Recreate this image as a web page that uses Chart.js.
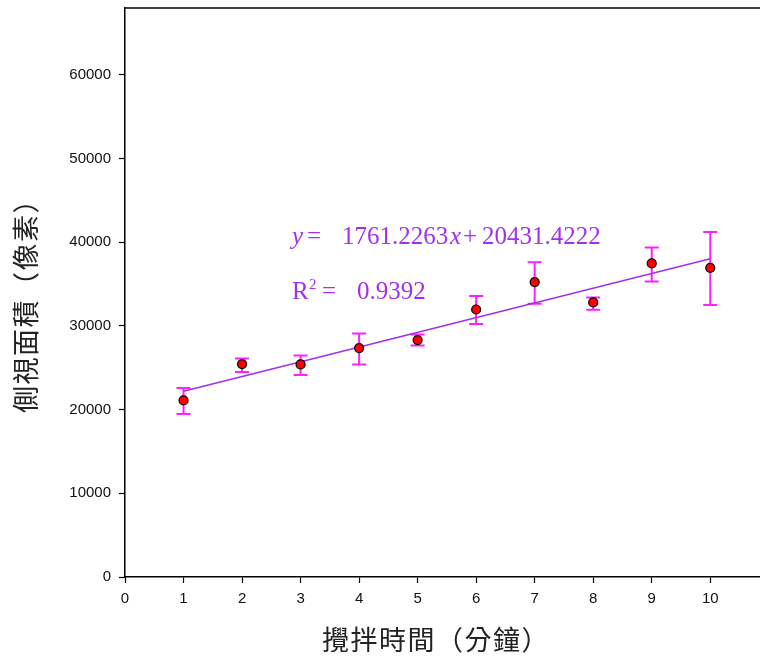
<!DOCTYPE html>
<html><head><meta charset="utf-8">
<script src="https://cdn.jsdelivr.net/npm/chart.js@4"></script>
<style>html,body{margin:0;padding:0;background:#fff;overflow:hidden}</style>
</head><body>
<canvas id="c" width="760" height="657"></canvas>
<script>
// ---- data ----
const stirMinutes = [1, 2, 3, 4, 5, 6, 7, 8, 9, 10];
const sideArea    = [21100, 25450, 25400, 27360, 28320, 31970, 35250, 32810, 37470, 36950];
const errLow      = [19470, 24490, 24130, 25400, 27670, 30230, 32650, 31940, 35320, 32500];
const errHigh     = [22580, 26120, 26480, 29100, 28990, 33570, 37630, 33410, 39380, 41220];
const fitSlope = 1761.2263;
const fitIntercept = 20431.4222;
const fitR2 = '0.9392';
const xTickValues = [0, 1, 2, 3, 4, 5, 6, 7, 8, 9, 10];
const yTickValues = [0, 10000, 20000, 30000, 40000, 50000, 60000];
const xTitle = '攪拌時間（分鐘）';
const yTitle = '側視面積（像素）';

const points = stirMinutes.map((x, i) => ({ x: x, y: sideArea[i] }));
const xFirst = stirMinutes[0], xLast = stirMinutes[stirMinutes.length - 1];
const fitLine = [
  { x: xFirst, y: fitSlope * xFirst + fitIntercept },
  { x: xLast,  y: fitSlope * xLast + fitIntercept }
];

const PURPLE = '#a030f0';
const MAGENTA = '#ff20ff';

const errorBarPlugin = {
  id: 'errorBars',
  beforeDatasetsDraw(chart) {
    const { ctx, scales: { x, y } } = chart;
    ctx.save();
    ctx.strokeStyle = MAGENTA;
    ctx.lineWidth = 2;
    stirMinutes.forEach((v, i) => {
      const px = x.getPixelForValue(v);
      const pLo = y.getPixelForValue(errLow[i]);
      const pHi = y.getPixelForValue(errHigh[i]);
      ctx.beginPath();
      ctx.moveTo(px, pLo); ctx.lineTo(px, pHi);
      ctx.moveTo(px - 7, pLo); ctx.lineTo(px + 7, pLo);
      ctx.moveTo(px - 7, pHi); ctx.lineTo(px + 7, pHi);
      ctx.stroke();
    });
    ctx.restore();
  }
};

const decorPlugin = {
  id: 'decor',
  afterDraw(chart) {
    const { ctx, chartArea } = chart;
    ctx.save();
    // top frame line
    ctx.strokeStyle = '#000';
    ctx.lineWidth = 1.5;
    ctx.beginPath();
    ctx.moveTo(chartArea.left, chartArea.top);
    ctx.lineTo(chart.width, chartArea.top);
    ctx.stroke();

    // axis titles
    ctx.fillStyle = '#222';
    ctx.font = '27px "Noto Sans CJK TC"';
    ctx.letterSpacing = '1.5px';
    ctx.textAlign = 'center';
    ctx.textBaseline = 'middle';
    ctx.fillText(xTitle, 436, 640);
    ctx.save();
    ctx.translate(26, 299);
    ctx.rotate(-Math.PI / 2);
    ctx.fillText(yTitle, 0, 0);
    ctx.restore();
    ctx.letterSpacing = '0px';

    // regression annotation
    ctx.fillStyle = PURPLE;
    ctx.textAlign = 'left';
    ctx.textBaseline = 'alphabetic';
    const serif = '"Liberation Serif", "Times New Roman", serif';
    const fs = 25;
    const b1 = 244;
    ctx.font = 'italic ' + fs + 'px ' + serif;
    ctx.fillText('y', 292, b1);
    ctx.font = fs + 'px ' + serif;
    ctx.fillText('=', 307, b1);
    ctx.fillText(fitSlope.toFixed(4), 342, b1);
    ctx.font = 'italic ' + fs + 'px ' + serif;
    ctx.fillText('x', 450, b1);
    ctx.font = fs + 'px ' + serif;
    ctx.fillText('+', 463, b1);
    ctx.fillText(fitIntercept.toFixed(4), 482, b1);

    const b2 = 299;
    ctx.font = fs + 'px ' + serif;
    ctx.fillText('R', 292, b2);
    ctx.font = '15px ' + serif;
    ctx.fillText('2', 309, b2 - 10);
    ctx.font = fs + 'px ' + serif;
    ctx.fillText('=', 322, b2);
    ctx.fillText(fitR2, 357, b2);
    ctx.restore();
  }
};

new Chart(document.getElementById('c'), {
  type: 'scatter',
  data: {
    datasets: [
      {
        type: 'line',
        data: fitLine,
        borderColor: PURPLE,
        borderWidth: 1.5,
        pointRadius: 0,
        fill: false,
        order: 2
      },
      {
        data: points,
        backgroundColor: '#ff0000',
        borderColor: '#000',
        borderWidth: 1.2,
        pointRadius: 4.5,
        order: 1
      }
    ]
  },
  options: {
    responsive: false,
    animation: false,
    devicePixelRatio: 1,
    layout: { autoPadding: false, padding: { top: 8, right: 0, left: 0, bottom: 0 } },
    plugins: { legend: { display: false }, tooltip: { enabled: false } },
    scales: {
      x: {
        type: 'linear',
        min: 0,
        max: 10.85,
        afterFit(s) { s.height = 80; s.paddingLeft = 0; s.paddingRight = 0; },
        afterBuildTicks(s) { s.ticks = xTickValues.map(v => ({ value: v })); },
        ticks: {
          includeBounds: false,
          stepSize: 1,
          padding: 7,
          color: '#111',
          font: { family: '"Liberation Sans", Arial, sans-serif', size: 15 },
          maxRotation: 0,
          callback: v => String(v)
        },
        grid: { drawOnChartArea: false, color: '#000', tickLength: 6, tickWidth: 1.2 },
        border: { color: '#000', width: 1.5 }
      },
      y: {
        type: 'linear',
        min: 0,
        max: 68000,
        afterFit(s) { s.width = 125; s.paddingTop = 0; s.paddingBottom = 0; },
        afterBuildTicks(s) { s.ticks = yTickValues.map(v => ({ value: v })); },
        ticks: {
          includeBounds: false,
          stepSize: 10000,
          padding: 8,
          color: '#111',
          font: { family: '"Liberation Sans", Arial, sans-serif', size: 15 },
          callback: v => String(v)
        },
        grid: { drawOnChartArea: false, color: '#000', tickLength: 6, tickWidth: 1.2 },
        border: { color: '#000', width: 1.5 }
      }
    }
  },
  plugins: [errorBarPlugin, decorPlugin]
});
</script>
</body></html>
